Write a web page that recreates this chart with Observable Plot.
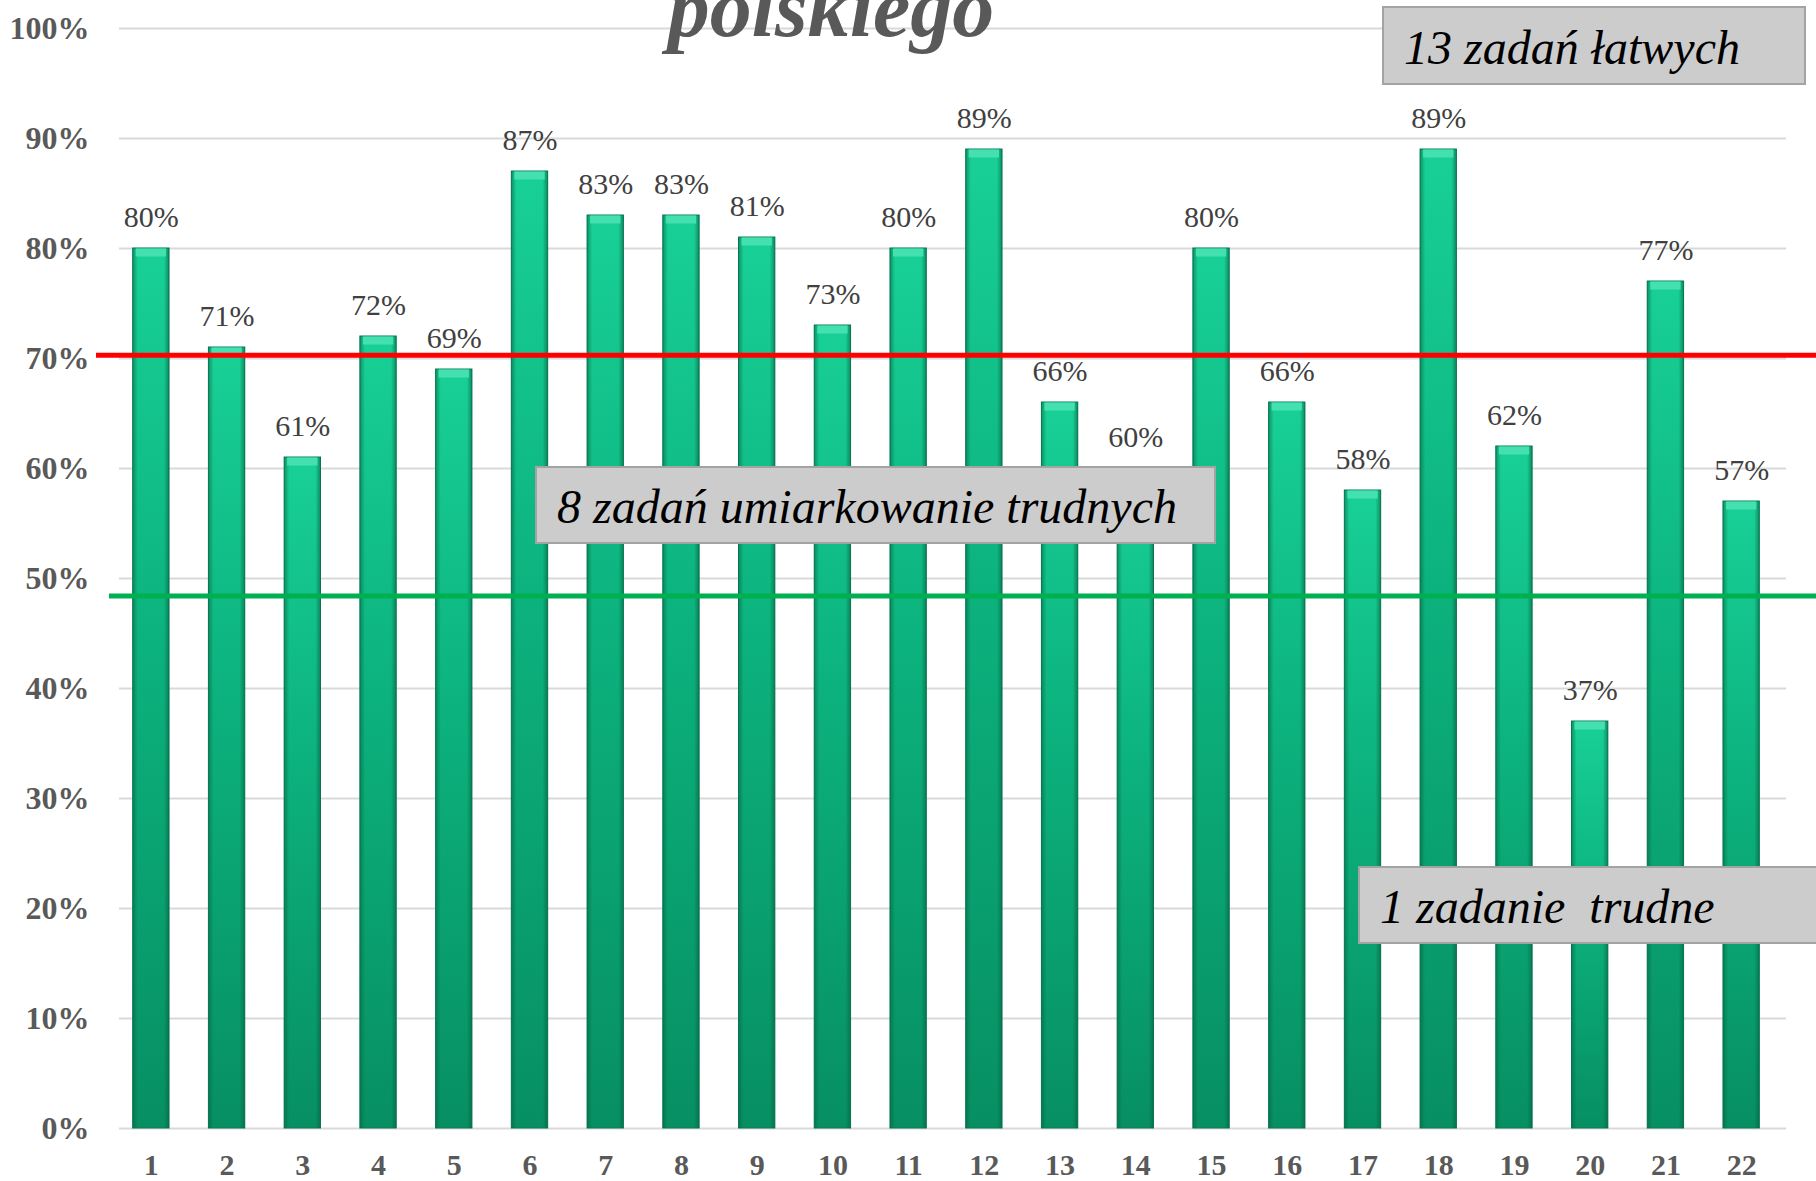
<!DOCTYPE html>
<html>
<head>
<meta charset="utf-8">
<script src="https://cdn.jsdelivr.net/npm/d3@7"></script>
<script src="https://cdn.jsdelivr.net/npm/@observablehq/plot@0.6"></script>
<style>
  html, body { margin: 0; padding: 0; background: #fff; }
  #wrap { position: relative; width: 1816px; height: 1181px; overflow: hidden; }
  #chart svg { display: block; }
  .title {
    position: absolute; left: 431px; top: -34px; width: 800px; text-align: center;
    font: italic bold 84px "Liberation Serif", "Times New Roman", serif; line-height: 1;
    color: #595959; white-space: nowrap;
  }
  .box {
    position: absolute; box-sizing: border-box; background: #cccccc;
    border: 2px solid #a3a3a3; font: italic 48px "Liberation Serif", "Times New Roman", serif;
    color: #000; line-height: 78px; white-space: pre; padding-left: 20px;
  }
  #box-easy { left: 1382px; top: 6px; width: 424px; height: 79px; line-height: 80px; }
  #box-mid { left: 535px; top: 466px; width: 681px; height: 78px; }
  #box-hard { left: 1358px; top: 866px; width: 480px; height: 78px; }
</style>
</head>
<body>
<div id="wrap">
  <div id="chart"></div>
  <div class="title" id="title"></div>
  <div class="box" id="box-easy"></div>
  <div class="box" id="box-mid"></div>
  <div class="box" id="box-hard"></div>
</div>
<script>
const tasks = ["1","2","3","4","5","6","7","8","9","10","11","12","13","14","15","16","17","18","19","20","21","22"];
const values = [80, 71, 61, 72, 69, 87, 83, 83, 81, 73, 80, 89, 66, 60, 80, 66, 58, 89, 62, 37, 77, 57];
const yTicks = [0, 10, 20, 30, 40, 50, 60, 70, 80, 90, 100];
const easyThreshold = [70.3];
const hardThreshold = [48.4];
const titleText = "polskiego";
const boxLabels = ["13 zadań łatwych", "8 zadań umiarkowanie trudnych", "1 zadanie  trudne"];

const data = tasks.map((t, i) => ({task: t, value: values[i]}));

const defs = () => {
  const d = d3.create("svg:defs");
  const g = d.append("linearGradient").attr("id", "barGrad")
    .attr("x1", 0).attr("y1", 0).attr("x2", 0).attr("y2", 1);
  g.append("stop").attr("offset", "0%").attr("stop-color", "#18d096");
  g.append("stop").attr("offset", "45%").attr("stop-color", "#0cb27d");
  g.append("stop").attr("offset", "100%").attr("stop-color", "#078f63");
  const e = d.append("linearGradient").attr("id", "barEdge")
    .attr("x1", 0).attr("y1", 0).attr("x2", 1).attr("y2", 0);
  e.append("stop").attr("offset", "0%").attr("stop-color", "#05603f").attr("stop-opacity", 0.55);
  e.append("stop").attr("offset", "14%").attr("stop-color", "#05603f").attr("stop-opacity", 0.0);
  e.append("stop").attr("offset", "86%").attr("stop-color", "#05603f").attr("stop-opacity", 0.0);
  e.append("stop").attr("offset", "100%").attr("stop-color", "#05603f").attr("stop-opacity", 0.6);
  return d.node();
};

const chart = Plot.plot({
  width: 1816,
  height: 1181,
  marginTop: 28,
  marginBottom: 53,
  marginLeft: 113,
  marginRight: 37,
  style: {fontFamily: "'Liberation Serif', 'Times New Roman', serif", background: "#fff"},
  x: {type: "band", domain: tasks, paddingInner: 0.52, paddingOuter: 0.26, round: false, label: null},
  y: {domain: [0, 100], label: null},
  marks: [
    defs,
    Plot.gridY(yTicks, {stroke: "#d9d9d9", strokeOpacity: 1, strokeWidth: 2, insetLeft: 6, insetRight: -7}),
    Plot.barY(data, {x: "task", y: "value", fill: "url(#barGrad)", stroke: "#0a7c55", strokeWidth: 1}),
    Plot.barY(data, {x: "task", y: "value", fill: "url(#barEdge)"}),
    Plot.tickY(data, {x: "task", y: "value", stroke: "#45e0b0", strokeWidth: 8, dy: 4, insetLeft: 3, insetRight: 3}),
    Plot.ruleY(easyThreshold, {stroke: "#ff0000", strokeWidth: 5, insetLeft: -17, insetRight: -40}),
    Plot.ruleY(hardThreshold, {stroke: "#00b050", strokeWidth: 5, insetLeft: -4, insetRight: -40}),
    Plot.text(data, {x: "task", y: "value", text: d => d.value + "%", lineAnchor: "bottom", dy: -22, fontSize: 30, fill: "#404040"}),
    Plot.axisY({ticks: yTicks, tickFormat: d => d + "%", tickSize: 0, tickPadding: 24, fontSize: 32, fontWeight: "bold", color: "#595959", label: null}),
    Plot.axisX({tickSize: 0, tickPadding: 25, fontSize: 30, fontWeight: "bold", color: "#595959", label: null})
  ]
});

document.getElementById("chart").appendChild(chart);
document.getElementById("title").textContent = titleText;
document.getElementById("box-easy").textContent = boxLabels[0];
document.getElementById("box-mid").textContent = boxLabels[1];
document.getElementById("box-hard").textContent = boxLabels[2];
</script>
</body>
</html>
